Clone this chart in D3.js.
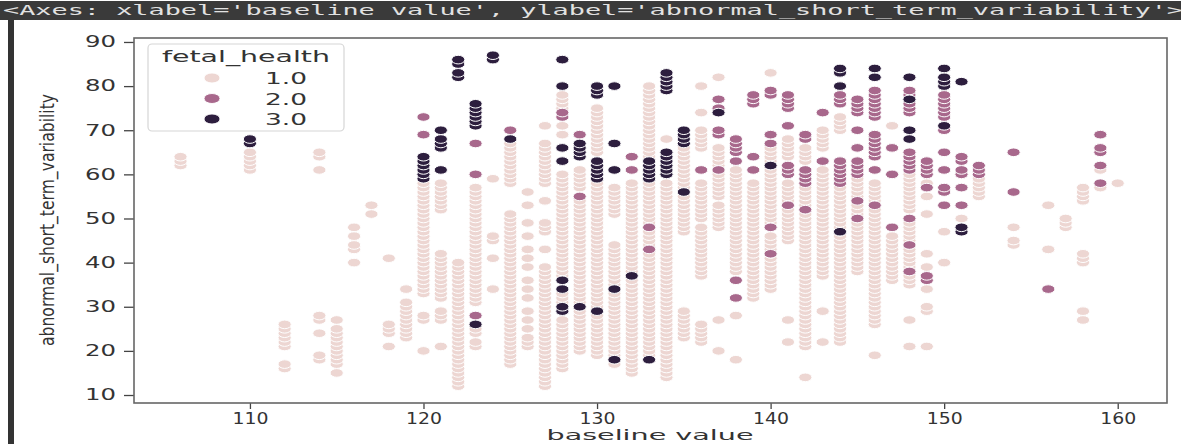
<!DOCTYPE html>
<html><head><meta charset="utf-8">
<script src="https://cdn.jsdelivr.net/npm/d3@7"></script>
<style>body{margin:0;background:#fff}svg{display:block}</style>
</head><body>
<svg id="c" width="1181" height="446"></svg>
<script>
const headerText = "<Axes: xlabel='baseline value', ylabel='abnormal_short_term_variability'>";
const xLabel = "baseline value";
const yLabel = "abnormal_short_term_variability";
const legendTitle = "fetal_health";
const classes = [1, 2, 3];
const classLabels = ["1.0", "2.0", "3.0"];
const xTicks = [110, 120, 130, 140, 150, 160];
const yTicks = [10, 20, 30, 40, 50, 60, 70, 80, 90];

// [baseline value, [abnormal_short_term_variability values]] — fetal_health 1.0
const normal = [
[106,[62,63,64]],
[110,[61,62,63,64,65]],
[112,[16,17,21,22,23,24,25,26]],
[114,[18,19,24,27,28,61,64,65]],
[115,[15,17,18,19,20,21,22,23,24,25,27]],
[116,[40,43,44,46,48]],
[117,[51,53]],
[118,[21,24,25,26,41]],
[119,[23,24,25,26,27,28,29,30,31,34]],
[120,[20,27,28,33,34,35,36,37,38,39,40,41,42,43,44,45,46,47,48,49,50,51,52,53,54,55,56,57,58]],
[121,[21,27,28,29,32,33,34,35,36,37,38,39,40,41,42,52,53,54,55,56,57,58]],
[122,[12,13,14,15,16,17,18,19,20,21,22,23,24,25,26,27,28,29,30,31,32,33,34,35,36,37,38,39,40]],
[123,[21,22,24,25,31,32,33,34,35,36,37,38,39,40,41,42,43,44,45,46,47,48,49,50,51,52,53,54,55,56,57]],
[124,[34,41,45,46,59]],
[125,[17,18,19,20,21,22,23,24,25,26,27,28,29,30,31,32,33,34,35,36,37,38,39,40,41,42,43,44,45,46,47,48,49,50,51,58,59,60,61,62,63,64,65,66,67]],
[126,[21,22,23,25,27,29,32,34,36,39,41,43,46,49,53,56]],
[127,[12,13,14,15,16,17,18,19,20,21,22,23,24,25,26,27,28,29,30,31,32,33,34,35,36,37,38,39,43,47,48,49,54,58,59,60,61,62,63,64,65,66,67,71]],
[128,[16,17,18,19,20,21,22,23,24,25,26,27,31,32,33,37,38,39,40,41,42,43,44,45,46,47,48,49,50,51,52,53,54,55,56,57,58,59,60,69,71,75,76,77,78]],
[129,[20,21,22,23,24,25,26,27,28,29,30,31,32,33,34,35,36,37,38,39,40,41,42,43,44,45,46,47,48,49,50,51,52,53,54,57,58,59,60,61]],
[130,[19,20,21,22,23,24,25,26,27,28,30,31,32,33,34,35,36,37,38,39,40,41,42,43,44,45,46,47,48,49,50,51,52,53,54,55,56,57,58,65,66,67,68,69,70,71,72,73,74,75]],
[131,[17,19,20,21,22,23,24,25,26,27,28,29,30,31,32,33,34,35,36,37,38,39,40,41,42,43,44,51,52,53,54,55,56,57]],
[132,[15,16,17,18,19,20,21,22,23,24,25,26,27,28,29,30,31,32,33,34,35,36,37,38,39,40,41,42,43,44,45,46,47,48,49,50,51,52,53,54,55,56,57,58]],
[133,[18,19,20,21,22,23,24,25,26,27,28,29,30,31,32,33,34,35,36,37,38,39,40,41,42,43,44,45,46,47,48,49,50,51,52,53,54,55,56,57,58,64,65,66,67,68,69,70,71,72,73,74,75,76,77,78,79,80]],
[134,[14,15,16,17,18,19,20,21,22,23,24,25,26,27,28,29,30,31,32,33,34,35,36,37,38,39,40,41,42,43,44,45,46,47,48,49,50,51,52,53,54,55,56,57,58,68]],
[135,[23,24,25,26,27,28,29,47,48,49,50,51,52,53,54,55,57,58,59,60,61,62,63,64,65,66]],
[136,[22,23,24,25,26,37,38,39,40,41,42,43,44,45,46,47,48,50,51,52,53,54,55,56,57,58,66,67,68,69,70,74,80]],
[137,[20,27,48,49,50,51,52,53,55,56,57,58,59,60,61,62,63,64,65,66,82]],
[138,[18,28,38,39,40,41,42,43,44,45,46,47,48,49,50,51,52,53,54,55,56,57,58,59,60,61]],
[139,[32,33,34,35,36,37,38,39,40,41,42,43,44,45,46,47,48,49,50,51,52,53,54,55,56,57,58]],
[140,[34,35,36,37,38,39,40,41,42,43,44,45,46,49,50,51,52,53,54,55,56,57,58,59,60,61,62,63,64,65,66,83]],
[141,[22,27,45,46,47,48,49,50,51,52,53,54,55,56,57,58,64,65,66,67,68]],
[142,[14,21,22,23,24,25,26,27,28,29,30,31,32,33,34,35,36,37,38,39,40,41,42,43,44,45,46,47,48,49,50,51,52,53,54,55,56,57,63,64,65,66]],
[143,[22,29,37,38,39,40,41,42,43,44,45,46,47,48,49,50,51,52,53,54,55,56,57,58,59,60,61,66,67,68,69,70]],
[144,[22,23,24,25,26,27,28,29,30,31,32,33,34,35,36,37,38,39,40,41,42,43,44,45,46,47,48,49,50,51,52,53,54,55,56,57,70,71,72,73]],
[145,[38,39,40,41,42,43,44,45,46,47,48,49,50,51,52,53,55,56,57,58,59]],
[146,[19,26,27,28,29,30,31,32,33,34,35,36,37,38,39,40,41,42,43,44,45,46,47,48,49,50,51,52,54,55,56,57,58]],
[147,[36,37,38,39,40,41,42,43,44,45,46,71]],
[148,[21,27,35,36,37,38,39,40,41,42,43,44,45,46,47,48,49,52,53,54,55,56,57,58,59,60]],
[149,[21,29,30,34,39,42,51,55,58]],
[150,[40,47]],
[151,[50]],
[152,[55,56,57,58,59]],
[154,[44,45,48]],
[156,[43,53]],
[157,[48,49,50]],
[158,[27,29,40,41,42,54,55,56,57]],
[159,[57,61]],
[160,[58]]
];

// fetal_health 2.0
const suspect = [
[120,[69,73]],
[123,[28,60,67]],
[125,[70]],
[128,[73,74]],
[129,[55,69]],
[132,[61,64]],
[133,[43,48]],
[136,[61]],
[137,[61,69,70,75,77]],
[138,[32,36,63,65,66,67,68]],
[139,[61,64,76,77,78]],
[140,[42,48,67,69,78,79]],
[141,[53,60,61,62,71,75,76,77,78]],
[142,[52,58,59,60,61,68,69]],
[143,[63,74]],
[144,[58,59,60,61,62,63,76,77,78]],
[145,[50,54,60,61,62,63,66,70,74,75,76,77]],
[146,[53,61,64,65,66,67,68,69,73,74,75,76,77,78,79]],
[147,[48,60,66]],
[148,[38,44,50,61,62,63,64,65,74,75,76,78,79]],
[149,[36,37,57,60,61,62,63]],
[150,[53,56,57,61,65,70,73,74,75,76,77,78]],
[151,[53,57,60,61,63,64]],
[152,[60,61,62]],
[154,[56,65]],
[156,[34]],
[159,[58,62,65,66,69]]
];

// fetal_health 3.0
const pathological = [
[110,[67,68]],
[120,[59,60,61,62,63,64]],
[121,[61,66,67,68,70]],
[122,[82,83,85,86]],
[123,[26,71,72,73,74,75,76]],
[124,[86,87]],
[125,[68]],
[128,[29,30,34,36,63,66,80,86]],
[129,[30,64,65,66,67]],
[130,[29,59,60,61,62,63,78,79,80]],
[131,[18,34,61,67,80]],
[132,[37]],
[133,[18,59,60,61,62,63]],
[134,[60,61,62,63,64,65,79,80,81,82,83]],
[135,[56,67,68,69,70]],
[137,[74]],
[140,[62]],
[144,[47,80,83,84]],
[146,[82,84]],
[148,[68,70,77,82]],
[150,[71,80,81,82,84]],
[151,[47,48,81]]
];

const palette = ["#edd6d2", "#a8688c", "#2d1e3e"];

const svg = d3.select("#c");
const FONT = "DejaVu Sans, sans-serif";

// notebook header
svg.append("rect").attr("x", 0).attr("y", 1).attr("width", 1181).attr("height", 19).attr("fill", "#3a3a3a");
svg.append("text").attr("x", 3).attr("y", 15)
  .attr("font-family", "DejaVu Sans Mono, monospace").attr("font-size", 13.5)
  .attr("fill", "#e2e2e2").attr("textLength", 1180).attr("lengthAdjust", "spacingAndGlyphs")
  .text(headerText);
// output-area left bar
svg.append("rect").attr("x", 8).attr("y", 20).attr("width", 6).attr("height", 424).attr("fill", "#333");

const x = d3.scaleLinear().domain([103.32, 162.84]).range([134, 1167]);
const y = d3.scaleLinear().domain([8.19, 90.9]).range([403, 38]);
const color = d3.scaleOrdinal().domain(classes).range(palette);

const pts = [];
[[normal, 1], [suspect, 2], [pathological, 3]].forEach(([cols, cls]) => {
  cols.forEach(([b, vals]) => vals.forEach(v => pts.push({b, v, cls})));
});

svg.append("g").selectAll("ellipse").data(pts).join("ellipse")
  .attr("cx", d => x(d.b)).attr("cy", d => y(d.v))
  .attr("rx", 6.6).attr("ry", 4.3)
  .attr("fill", d => color(d.cls))
  .attr("stroke", "#fff").attr("stroke-width", 1);

// axes
const gx = svg.append("g").attr("transform", "translate(0,403)")
  .call(d3.axisBottom(x).tickValues(xTicks).tickSize(6).tickPadding(4).tickFormat(d3.format("d")));
const gy = svg.append("g").attr("transform", "translate(134,0)")
  .call(d3.axisLeft(y).tickValues(yTicks).tickSize(10).tickPadding(8).tickFormat(d3.format("d")));
[gx, gy].forEach(g => {
  g.select(".domain").remove();
  g.selectAll(".tick line").attr("stroke", "#444").attr("stroke-width", 1.3);
  g.selectAll(".tick text").attr("fill", "#333").attr("font-family", FONT).attr("font-size", 15)
    .attr("lengthAdjust", "spacingAndGlyphs");
});
gx.selectAll(".tick text").attr("textLength", 36);
gy.selectAll(".tick text").attr("textLength", 31);

// frame
svg.append("rect").attr("x", 134).attr("y", 38).attr("width", 1033).attr("height", 365)
  .attr("fill", "none").attr("stroke", "#666").attr("stroke-width", 1.6);

// axis labels
svg.append("text").attr("x", 650).attr("y", 440).attr("text-anchor", "middle")
  .attr("font-family", FONT).attr("font-size", 14).attr("fill", "#333")
  .attr("textLength", 207).attr("lengthAdjust", "spacingAndGlyphs").text(xLabel);
svg.append("text").attr("transform", "translate(54,220) scale(1.25,1) rotate(-90)")
  .attr("text-anchor", "middle").attr("font-family", FONT).attr("font-size", 15).attr("fill", "#333")
  .attr("textLength", 252).attr("lengthAdjust", "spacingAndGlyphs").text(yLabel);

// legend
const lg = svg.append("g");
lg.append("rect").attr("x", 148).attr("y", 44).attr("width", 196).attr("height", 87).attr("rx", 4)
  .attr("fill", "#fff").attr("fill-opacity", 0.85).attr("stroke", "#d6d6d6").attr("stroke-width", 1.2);
lg.append("text").attr("x", 246).attr("y", 62).attr("text-anchor", "middle")
  .attr("font-family", FONT).attr("font-size", 15).attr("fill", "#333")
  .attr("textLength", 168).attr("lengthAdjust", "spacingAndGlyphs").text(legendTitle);
const ly = d3.scalePoint().domain(classes).range([78, 119]);
lg.selectAll("ellipse.l").data(classes).join("ellipse").attr("class", "l")
  .attr("cx", 212).attr("cy", d => ly(d)).attr("rx", 8).attr("ry", 5)
  .attr("fill", d => color(d)).attr("stroke", "#fff").attr("stroke-width", 0.9);
lg.selectAll("text.l").data(classes).join("text").attr("class", "l")
  .attr("x", 265).attr("y", d => ly(d) + 6)
  .attr("font-family", FONT).attr("font-size", 15).attr("fill", "#333")
  .attr("textLength", 42).attr("lengthAdjust", "spacingAndGlyphs")
  .text((d, i) => classLabels[i]);
</script>
</body></html>
